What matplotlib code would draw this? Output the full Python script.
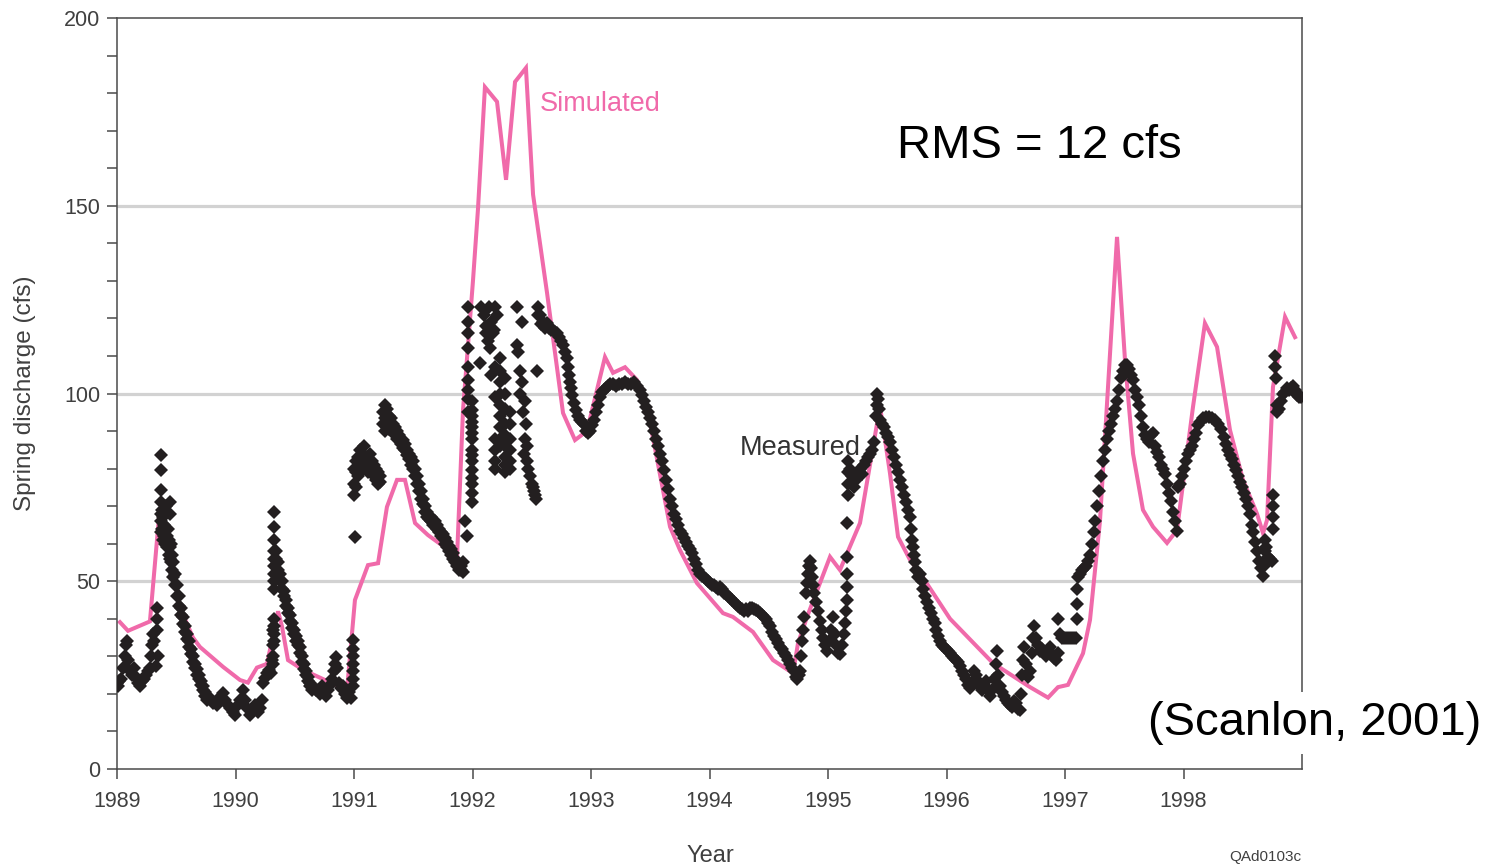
import matplotlib
matplotlib.use("Agg")
import matplotlib.pyplot as plt
from matplotlib.ticker import MultipleLocator

plt.rcParams['font.family'] = ['Liberation Sans', 'DejaVu Sans']

# Simulated monthly spring discharge (cfs): decimal year, value
sim_t = [1989.025, 1989.093, 1989.278, 1989.354, 1989.447, 1989.532, 1989.641, 1989.700,
         1989.895, 1990.038, 1990.105, 1990.181, 1990.266, 1990.359, 1990.392, 1990.443,
         1990.570, 1990.941, 1991.008, 1991.118, 1991.203, 1991.278, 1991.363, 1991.430,
         1991.515, 1991.624, 1991.768, 1991.869, 1991.920, 1992.004, 1992.046, 1992.105,
         1992.207, 1992.283, 1992.359, 1992.451, 1992.511, 1992.629, 1992.764, 1992.865,
         1992.966, 1993.118, 1993.186, 1993.287, 1993.388, 1993.473, 1993.667, 1993.751,
         1993.894, 1994.114, 1994.198, 1994.367, 1994.536, 1994.705, 1994.747, 1994.823,
         1995.017, 1995.101, 1995.270, 1995.414, 1995.439, 1995.523, 1995.591, 1995.692,
         1995.776, 1996.030, 1996.392, 1996.705, 1996.857, 1996.941, 1997.025, 1997.152,
         1997.211, 1997.295, 1997.439, 1997.506, 1997.574, 1997.658, 1997.743, 1997.861,
         1997.945, 1998.080, 1998.181, 1998.283, 1998.392, 1998.502, 1998.620, 1998.671,
         1998.705, 1998.755, 1998.857, 1998.941]
sim_q = [39.1, 36.8, 39.3, 67.0, 57.5, 43.0, 35.0, 32.5,
         27.2, 23.7, 23.0, 27.0, 28.0, 42.0, 38.0, 29.0,
         26.4, 21.0, 45.0, 54.3, 54.8, 69.8, 77.0, 77.0,
         65.5, 62.3, 59.0, 56.0, 95.6, 130.0, 149.0, 181.6,
         177.7, 156.9, 183.0, 186.7, 153.0, 126.8, 94.8, 87.6,
         90.0, 109.7, 105.5, 107.0, 103.6, 96.4, 64.5, 58.3,
         49.5, 41.5, 40.5, 36.5, 29.0, 25.5, 33.5, 40.5,
         56.5, 53.0, 65.5, 92.0, 96.5, 78.8, 61.8, 55.7,
         52.2, 40.0, 28.2, 21.8, 19.0, 21.8, 22.4, 30.8,
         39.7, 66.0, 141.7, 109.0, 84.0, 69.0, 64.5, 60.2,
         63.6, 96.4, 118.7, 112.4, 90.3, 77.0, 68.0, 62.8,
         66.3, 101.7, 120.4, 115.0]

# Measured daily discharge (cfs), one tuple per date: (decimal year, value(s) on that date)
meas_1989 = [
    (1989.000, 23), (1989.008, 22), (1989.017, 23.5), (1989.034, 24), (1989.051, 27),
    (1989.068, 30), (1989.076, 33), (1989.084, 34), (1989.093, 29), (1989.110, 26),
    (1989.127, 25), (1989.143, 27), (1989.160, 24.5), (1989.177, 23), (1989.194, 22),
    (1989.211, 23.5), (1989.228, 24), (1989.245, 25), (1989.262, 26), (1989.278, 27),
    (1989.287, 30), (1989.295, 33), (1989.304, 36), (1989.312, 34), (1989.329, 27.5),
    (1989.338, 37, 40, 43), (1989.346, 30),
    (1989.371, 83.6, 79.6, 74.3, 71, 68, 66, 63), (1989.380, 69, 64), (1989.388, 67, 61),
    (1989.397, 65, 68, 62), (1989.405, 64, 60), (1989.414, 70), (1989.422, 62, 59),
    (1989.430, 64, 60), (1989.439, 61, 57), (1989.447, 71, 68, 59, 56), (1989.456, 60, 55),
    (1989.464, 57, 53), (1989.473, 55, 51), (1989.489, 52, 49), (1989.506, 49, 46),
    (1989.523, 46, 43.5), (1989.540, 43, 41), (1989.557, 40.5, 38.5), (1989.574, 38, 36.5),
    (1989.591, 36, 34.5), (1989.608, 34, 32.5), (1989.624, 32, 30.5), (1989.641, 30, 28.5),
    (1989.658, 28, 27), (1989.675, 26.5, 25), (1989.692, 25, 24), (1989.709, 23.5, 22.5),
    (1989.726, 22, 21), (1989.743, 20.5, 19.5), (1989.759, 18.4), (1989.785, 19),
    (1989.810, 17.6), (1989.844, 17), (1989.869, 19.2), (1989.895, 20.2), (1989.911, 18.4),
    (1989.937, 17), (1989.954, 16.2), (1989.979, 15.2), (1989.996, 14.4),
]
meas_1990 = [
    (1990.021, 17), (1990.038, 18.4), (1990.063, 21), (1990.080, 18.4), (1990.097, 16.2),
    (1990.122, 14.4), (1990.139, 15.7), (1990.165, 17), (1990.190, 15.2), (1990.207, 16.2),
    (1990.224, 18.4), (1990.232, 23), (1990.249, 24.2), (1990.266, 25.5), (1990.283, 26.4),
    (1990.300, 25.5), (1990.308, 29), (1990.316, 33, 37, 30, 28),
    (1990.325, 68.4, 64.5, 61, 58, 56, 54, 52, 50, 48, 40, 38, 36, 34),
    (1990.342, 58, 56), (1990.359, 55, 53), (1990.376, 52, 50), (1990.392, 50, 48),
    (1990.409, 47.5, 46), (1990.426, 45, 43.5), (1990.443, 43, 41.5), (1990.460, 41, 39.5),
    (1990.477, 39, 37.5), (1990.494, 37, 36), (1990.511, 35.5, 34), (1990.527, 34, 33),
    (1990.544, 32.5, 31), (1990.561, 30, 28.5), (1990.578, 28, 26.5), (1990.595, 26, 25),
    (1990.612, 24.5, 23.5), (1990.629, 23, 22), (1990.646, 22, 21), (1990.662, 21.5),
    (1990.679, 21), (1990.696, 21), (1990.713, 20), (1990.730, 22), (1990.747, 20.5),
    (1990.764, 19.5), (1990.781, 21), (1990.797, 22.5), (1990.814, 24), (1990.831, 26),
    (1990.840, 28), (1990.848, 29.8), (1990.857, 27), (1990.873, 23), (1990.890, 21.5),
    (1990.907, 22), (1990.924, 20), (1990.941, 19), (1990.958, 20.5), (1990.975, 19),
    (1990.992, 34.3, 32, 30, 28, 26, 24, 22),
]
meas_1991 = [
    (1991.000, 80, 76, 73), (1991.008, 61.8), (1991.017, 79, 82, 75), (1991.034, 83, 78),
    (1991.051, 82, 85, 79), (1991.068, 84, 80), (1991.084, 86, 82), (1991.101, 83, 80),
    (1991.118, 82, 79), (1991.135, 84, 81), (1991.152, 82, 79), (1991.169, 81, 78),
    (1991.186, 80, 77), (1991.203, 79, 76), (1991.219, 78, 76.5),
    (1991.245, 95, 92), (1991.262, 97, 93.5, 90), (1991.278, 96, 92), (1991.295, 94, 90.5),
    (1991.312, 93.5, 91), (1991.329, 92, 89.5), (1991.346, 91, 89.5), (1991.363, 90, 88),
    (1991.380, 89, 87.5), (1991.397, 88, 86.5), (1991.414, 87.5, 85.5), (1991.430, 86.5, 85),
    (1991.447, 85, 83.5), (1991.464, 84, 82.5), (1991.481, 83, 81), (1991.498, 82, 80),
    (1991.515, 80, 78), (1991.532, 78, 76), (1991.549, 76, 74), (1991.565, 74, 72),
    (1991.582, 72, 70.5), (1991.599, 70, 68.5), (1991.616, 68.5, 67), (1991.633, 67.5, 66.5),
    (1991.650, 67, 66), (1991.667, 66, 65), (1991.684, 66, 65), (1991.700, 65, 64),
    (1991.717, 64, 63), (1991.734, 63, 62), (1991.751, 62.5, 61.5), (1991.768, 61.5, 60),
    (1991.785, 60.5, 59), (1991.802, 59.5, 58), (1991.819, 58.5, 57), (1991.835, 57.5, 56),
    (1991.852, 56, 55), (1991.869, 55, 54), (1991.886, 54.5, 53), (1991.903, 54, 53),
    (1991.920, 55, 52.5), (1991.937, 66), (1991.954, 62),
    (1991.962, 123, 119, 116, 112, 107, 103.5, 101, 98.5, 95),
    (1991.996, 98, 95.5, 94, 92.5, 91, 89.5, 88, 85, 83.5, 82, 79.5, 77.5, 76, 73.5, 71),
]
meas_1992 = [
    (1992.063, 108), (1992.072, 123), (1992.097, 121), (1992.114, 118, 116),
    (1992.131, 114), (1992.139, 123), (1992.148, 112, 116.5), (1992.156, 119, 105),
    (1992.173, 116), (1992.181, 117), (1992.190, 123, 107, 99, 88, 85, 82, 80), (1992.207, 121),
    (1992.232, 109.5, 106, 103, 100, 97, 94, 91, 88, 86),
    (1992.274, 104, 100, 96, 92, 89, 86, 83, 81, 79),
    (1992.316, 95, 92, 88, 85, 82, 80),
    (1992.375, 123, 113), (1992.384, 111), (1992.401, 106, 100), (1992.418, 119, 103),
    (1992.426, 95), (1992.435, 84), (1992.443, 98, 88), (1992.451, 92), (1992.460, 86, 82),
    (1992.468, 80), (1992.485, 78), (1992.502, 76), (1992.511, 75), (1992.519, 74),
    (1992.527, 73), (1992.536, 72), (1992.544, 106),
    (1992.553, 123, 121), (1992.570, 121), (1992.578, 118.5), (1992.595, 119),
    (1992.612, 117.5), (1992.629, 118.8), (1992.646, 117.5), (1992.662, 117), (1992.679, 117),
    (1992.696, 116.5), (1992.713, 116), (1992.730, 115), (1992.747, 114), (1992.764, 113),
    (1992.781, 111), (1992.797, 109.5), (1992.806, 107), (1992.814, 105), (1992.823, 103),
    (1992.831, 101.5), (1992.840, 99.5), (1992.857, 97.5), (1992.873, 95.5), (1992.890, 94),
    (1992.907, 93), (1992.924, 92.5), (1992.941, 92), (1992.958, 90), (1992.975, 89.5),
    (1992.992, 90),
]
meas_1993 = [
    (1993.008, 91.5), (1993.025, 93), (1993.042, 95), (1993.059, 97), (1993.076, 99),
    (1993.093, 100.5), (1993.110, 101), (1993.127, 101.5), (1993.143, 102), (1993.160, 102.5),
    (1993.186, 102.5), (1993.211, 102), (1993.236, 102.5), (1993.262, 102.5), (1993.287, 103),
    (1993.312, 102.5), (1993.338, 102.5), (1993.363, 103), (1993.388, 102), (1993.414, 101),
    (1993.430, 99.5), (1993.447, 98), (1993.464, 96.5), (1993.481, 95), (1993.498, 93.5),
    (1993.515, 92), (1993.532, 90), (1993.549, 88), (1993.565, 86), (1993.582, 84),
    (1993.599, 82), (1993.616, 79.5), (1993.633, 77), (1993.650, 74.5), (1993.667, 72),
    (1993.684, 70), (1993.700, 68), (1993.717, 66.5), (1993.734, 65), (1993.751, 63.5),
    (1993.768, 62.5), (1993.785, 61.5), (1993.802, 60.5), (1993.819, 59.5), (1993.835, 58.5),
    (1993.852, 57.5), (1993.869, 56), (1993.886, 54.5), (1993.903, 53), (1993.920, 52),
    (1993.937, 51.5), (1993.954, 51), (1993.970, 50.5), (1993.987, 50),
]
meas_1994 = [
    (1994.004, 49.5), (1994.021, 49), (1994.038, 49), (1994.055, 48.5), (1994.072, 48),
    (1994.089, 48.5), (1994.105, 48), (1994.122, 47), (1994.139, 46.5), (1994.156, 46),
    (1994.173, 45.5), (1994.190, 45), (1994.207, 44.5), (1994.224, 44), (1994.241, 43.5),
    (1994.257, 43), (1994.274, 42.5), (1994.291, 42), (1994.308, 42.5), (1994.325, 42),
    (1994.342, 43), (1994.359, 42.8), (1994.376, 42.5), (1994.392, 42.3), (1994.409, 42),
    (1994.426, 41.5), (1994.443, 41), (1994.460, 40.5), (1994.477, 40), (1994.494, 39),
    (1994.511, 38), (1994.527, 36.5), (1994.544, 35.5), (1994.561, 34.5), (1994.578, 33.5),
    (1994.595, 32.5), (1994.612, 32), (1994.629, 31), (1994.646, 30), (1994.662, 29),
    (1994.679, 28), (1994.696, 27), (1994.713, 26), (1994.730, 24.5), (1994.738, 24),
    (1994.755, 25), (1994.764, 26), (1994.772, 30), (1994.781, 34), (1994.789, 37),
    (1994.797, 40.5), (1994.814, 47), (1994.823, 49.5), (1994.831, 52), (1994.840, 54),
    (1994.848, 55.5), (1994.857, 53.5), (1994.865, 51), (1994.873, 49), (1994.882, 47),
    (1994.899, 44.5), (1994.916, 42), (1994.932, 39.5), (1994.949, 37), (1994.958, 35),
    (1994.975, 33), (1994.992, 31.5),
]
meas_1995 = [
    (1995.008, 34), (1995.025, 37), (1995.042, 40.5), (1995.059, 36), (1995.068, 33),
    (1995.084, 31), (1995.101, 30.5), (1995.118, 33), (1995.135, 36), (1995.143, 39),
    (1995.152, 42), (1995.160, 45, 48.5, 52, 56.5, 65.5), (1995.169, 73, 76, 79, 82),
    (1995.186, 80), (1995.203, 78), (1995.219, 75), (1995.236, 77), (1995.253, 79),
    (1995.270, 80), (1995.287, 78.5), (1995.304, 81), (1995.321, 82), (1995.338, 83),
    (1995.354, 84), (1995.371, 85), (1995.388, 87), (1995.405, 94), (1995.414, 97, 100),
    (1995.422, 98.5), (1995.430, 96), (1995.439, 93), (1995.456, 92), (1995.473, 91),
    (1995.489, 89.5), (1995.506, 88.5), (1995.523, 87), (1995.540, 85), (1995.557, 83),
    (1995.574, 81), (1995.591, 79), (1995.608, 77), (1995.624, 75), (1995.641, 73),
    (1995.658, 71), (1995.675, 69), (1995.692, 67), (1995.700, 64), (1995.709, 61),
    (1995.717, 59), (1995.726, 57), (1995.734, 55), (1995.743, 53), (1995.759, 51),
    (1995.776, 52), (1995.793, 50), (1995.802, 48), (1995.819, 46), (1995.835, 44.5),
    (1995.852, 43), (1995.869, 41.5), (1995.886, 40), (1995.903, 39), (1995.911, 37),
    (1995.928, 35.5), (1995.945, 34), (1995.962, 33), (1995.979, 32.5), (1995.996, 32),
]
meas_1996 = [
    (1996.013, 31.5), (1996.030, 31), (1996.046, 30), (1996.063, 29.5), (1996.080, 29),
    (1996.097, 28.5), (1996.114, 27.5), (1996.131, 26), (1996.148, 25), (1996.165, 24),
    (1996.181, 22.5), (1996.198, 21.5), (1996.215, 23), (1996.232, 26), (1996.249, 25),
    (1996.266, 23.5), (1996.283, 22), (1996.300, 21), (1996.316, 22.5), (1996.333, 23.5),
    (1996.350, 21), (1996.367, 19.5), (1996.384, 21), (1996.401, 24), (1996.418, 28),
    (1996.426, 31.5), (1996.435, 25), (1996.451, 22), (1996.468, 20.5), (1996.485, 19.5),
    (1996.502, 18.5), (1996.519, 17.5), (1996.536, 17), (1996.553, 16.5), (1996.570, 18),
    (1996.586, 17.5), (1996.603, 16), (1996.620, 15.7), (1996.629, 20), (1996.637, 25),
    (1996.646, 29), (1996.654, 32.5), (1996.671, 28), (1996.688, 24.5), (1996.705, 26),
    (1996.722, 31), (1996.730, 35), (1996.738, 38), (1996.755, 35), (1996.772, 33),
    (1996.789, 31.5), (1996.806, 32), (1996.823, 31), (1996.840, 30), (1996.857, 31.5),
    (1996.873, 32.5), (1996.890, 30.5), (1996.907, 29.5), (1996.924, 29), (1996.941, 31, 40),
    (1996.958, 36), (1996.975, 35), (1996.992, 35),
]
meas_1997 = [
    (1997.008, 35), (1997.025, 34.8), (1997.042, 35), (1997.059, 34.8), (1997.076, 34.8),
    (1997.093, 35), (1997.101, 40, 44, 48), (1997.110, 51), (1997.127, 52), (1997.143, 53),
    (1997.160, 53.5), (1997.177, 54), (1997.194, 55.5), (1997.211, 57), (1997.228, 60),
    (1997.245, 63), (1997.253, 66), (1997.270, 70), (1997.287, 74), (1997.304, 78),
    (1997.321, 82), (1997.338, 85), (1997.354, 88), (1997.371, 90), (1997.388, 92),
    (1997.405, 94), (1997.422, 96), (1997.439, 98), (1997.456, 101), (1997.473, 104),
    (1997.489, 106), (1997.506, 107.5), (1997.523, 107.5), (1997.540, 106.5), (1997.557, 105),
    (1997.574, 103.5), (1997.591, 101), (1997.608, 99), (1997.624, 97), (1997.641, 94),
    (1997.658, 91), (1997.675, 89), (1997.692, 88), (1997.709, 87), (1997.726, 89),
    (1997.743, 89.5), (1997.759, 86), (1997.776, 84.5), (1997.793, 83), (1997.810, 81),
    (1997.827, 80), (1997.844, 78.5), (1997.861, 76), (1997.878, 73.5), (1997.895, 71.5),
    (1997.911, 68.5), (1997.928, 66), (1997.945, 63.5), (1997.954, 75), (1997.970, 76),
    (1997.987, 78),
]
meas_1998 = [
    (1998.004, 80), (1998.021, 82), (1998.038, 84), (1998.055, 85), (1998.072, 86),
    (1998.089, 88), (1998.105, 89.5), (1998.122, 91.5), (1998.139, 92.5), (1998.165, 93.5),
    (1998.190, 93.7), (1998.215, 93.7), (1998.241, 93.5), (1998.266, 93), (1998.291, 92),
    (1998.316, 90.5), (1998.342, 88.5), (1998.359, 86.5), (1998.376, 85), (1998.392, 83.5),
    (1998.409, 82.5), (1998.426, 81), (1998.443, 79.5), (1998.460, 78), (1998.477, 76.5),
    (1998.494, 75), (1998.511, 73.5), (1998.527, 72), (1998.544, 70), (1998.561, 68),
    (1998.578, 65), (1998.586, 63), (1998.603, 60.5), (1998.620, 58), (1998.637, 55.5),
    (1998.654, 53.5), (1998.671, 51.5), (1998.679, 54), (1998.688, 58, 61), (1998.696, 59),
    (1998.713, 56.5), (1998.730, 56), (1998.747, 55.5), (1998.755, 64, 67, 70, 73),
    (1998.772, 107, 110), (1998.781, 104), (1998.789, 97, 95), (1998.806, 96),
    (1998.823, 98), (1998.840, 100), (1998.857, 100.5), (1998.873, 101.5), (1998.890, 101),
    (1998.907, 101.5), (1998.924, 102), (1998.941, 101), (1998.958, 99.5), (1998.975, 99),
    (1998.992, 99),
]

year_ticks = [1989, 1990, 1991, 1992, 1993, 1994, 1995, 1996, 1997, 1998]
q_ticks = [0, 50, 100, 150, 200]
grid_levels = [50, 100, 150]

meas_t, meas_q = [], []
for block in (meas_1989, meas_1990, meas_1991, meas_1992, meas_1993,
              meas_1994, meas_1995, meas_1996, meas_1997, meas_1998):
    for entry in block:
        for q in entry[1:]:
            meas_t.append(entry[0])
            meas_q.append(q)

PINK = '#f06aaa'
INK = '#231f20'
AXIS = '#4a4a4a'
TICKTXT = '#404040'

fig = plt.figure(figsize=(14.98, 8.68), dpi=100)
ax = fig.add_axes([117 / 1498, 1 - 769 / 868, (1302 - 117) / 1498, (769 - 18) / 868])

for lvl in grid_levels:
    ax.axhline(lvl, color='#d2d2d2', lw=2.3, zorder=0.5)

ax.plot(sim_t, sim_q, color=PINK, lw=2.9, zorder=2, solid_joinstyle='miter')
ax.plot(meas_t, meas_q, 'D', ms=7.2, mew=0, color=INK, zorder=3)

ax.set_xlim(1989, 1999)
ax.set_ylim(0, 200)
ax.set_xticks(year_ticks)
ax.set_xticklabels([str(y) for y in year_ticks])
ax.set_yticks(q_ticks)
ax.yaxis.set_minor_locator(MultipleLocator(10))

for side in ('left', 'right', 'top', 'bottom'):
    ax.spines[side].set_color(AXIS)
    ax.spines[side].set_linewidth(1.1)

ax.tick_params(axis='both', which='both', direction='out', color=AXIS, width=1.1,
               length=7.2, labelsize=15.5, labelcolor=TICKTXT)
ax.tick_params(axis='x', pad=8.5)
ax.tick_params(axis='y', pad=5)
ax.tick_params(axis='x', which='minor', bottom=False)

ax.text(1992.570, 175.2, 'Simulated', color=PINK, fontsize=19.5, ha='left', va='baseline')
ax.text(1994.257, 83.6, 'Measured', color='#333333', fontsize=19.5, ha='left', va='baseline',
        zorder=4)
ax.text(1995.582, 162.7, 'RMS = 12 cfs', color='black', fontsize=34, ha='left', va='baseline')

fig.text(25 / 1498, 1 - 393 / 868, 'Spring discharge (cfs)', rotation=90, color=TICKTXT,
         fontsize=17.5, ha='center', va='center')
fig.text(710 / 1498, 1 - 862 / 868, 'Year', color=TICKTXT, fontsize=17, ha='center',
         va='baseline')
fig.text(1265 / 1498, 1 - 861 / 868, 'QAd0103c', color=TICKTXT, fontsize=11, ha='center',
         va='baseline')
fig.text(1148 / 1498, 1 - 735 / 868, '(Scanlon, 2001)', color='black', fontsize=34,
         ha='left', va='baseline',
         bbox=dict(boxstyle='square,pad=0.2', facecolor='white', edgecolor='none'))

fig.savefig('out.png', dpi=100, facecolor='white')
